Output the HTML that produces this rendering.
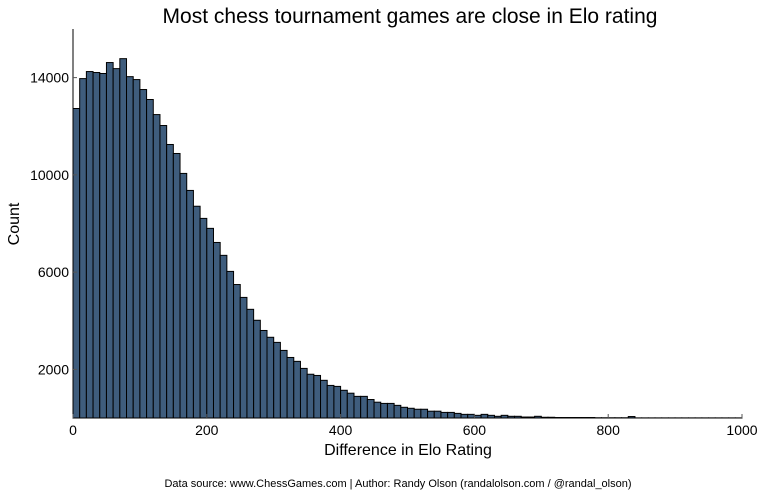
<!DOCTYPE html>
<html><head><meta charset="utf-8"><style>
body{margin:0;background:#fff;font-family:"Liberation Sans",sans-serif}
</style></head><body>
<svg id="chart" width="766" height="497" xmlns="http://www.w3.org/2000/svg" font-family="Liberation Sans, sans-serif"></svg>
<script>
const binStarts=[];for(let i=0;i<100;i++)binStarts.push(i*10);
const counts=[12730,13960,14250,14210,14170,14620,14370,14780,14040,13920,13510,13100,12480,12030,11250,10880,10060,9360,8710,8210,7800,7220,6690,6030,5490,4960,4470,4020,3600,3320,3110,2780,2490,2330,2040,1800,1750,1550,1340,1300,1140,1020,890,890,760,650,600,600,520,440,400,360,360,280,280,230,230,190,150,150,110,150,110,70,110,70,70,40,40,70,30,30,20,20,20,20,20,20,10,10,10,10,10,60,5,5,5,5,5,5,5,5,5,5,5,5,5,5,5,5];
const xTicks=[0,200,400,600,800,1000];
const yTicks=[2000,6000,10000,14000];
const L=73,R=742,T=29,B=418,xMax=1000,yMax=16000,binW=10;
const sx=v=>L+(v/xMax)*(R-L), sy=v=>B-(v/yMax)*(B-T);
const svg=document.getElementById('chart');const NS='http://www.w3.org/2000/svg';
function mk(tag,attrs,parent){const e=document.createElementNS(NS,tag);for(const k in attrs)e.setAttribute(k,attrs[k]);(parent||svg).appendChild(e);return e;}
const g=mk('g',{});


counts.forEach((c,i)=>{if(c<=0)return;const x0=sx(binStarts[i]),x1=sx(binStarts[i]+binW);
const r=mk('rect',{x:x0,y:sy(c),width:x1-x0,height:B-sy(c),fill:'#3f5d7d',stroke:'#000','stroke-width':1},g);

});
let a=mk('line',{x1:L,y1:T,x2:L,y2:B,stroke:'#000','stroke-width':1});

a=mk('line',{x1:L,y1:B,x2:R,y2:B,stroke:'#000','stroke-width':1});

yTicks.forEach(v=>{const y=sy(v);mk('line',{x1:L,y1:y,x2:L+4,y2:y,stroke:'#555'});
const t=mk('text',{x:L-4,y:y+5,'text-anchor':'end','font-size':14});t.textContent=v;
});
xTicks.forEach(v=>{const x=sx(v);mk('line',{x1:x,y1:B,x2:x,y2:B-4,stroke:'#555'});
const t=mk('text',{x:x,y:B+17,'text-anchor':'middle','font-size':14});t.textContent=v;
});
</script>
<svg style="position:absolute;left:0;top:0" width="766" height="497">
<text x="410" y="23" text-anchor="middle" font-size="21" font-family="Liberation Sans, sans-serif">Most chess tournament games are close in Elo rating</text>
<text x="408" y="455" text-anchor="middle" font-size="16" font-family="Liberation Sans, sans-serif">Difference in Elo Rating</text>
<text x="19" y="224" text-anchor="middle" font-size="16" font-family="Liberation Sans, sans-serif" transform="rotate(-90 19 224)">Count</text>
<text x="398" y="487" text-anchor="middle" font-size="11" font-family="Liberation Sans, sans-serif">Data source: www.ChessGames.com | Author: Randy Olson (randalolson.com / @randal_olson)</text>
</svg>
</body></html>
